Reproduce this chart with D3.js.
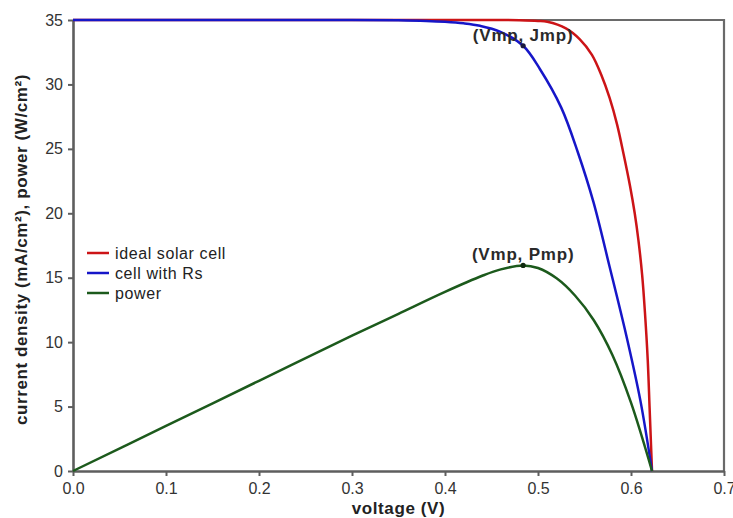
<!DOCTYPE html>
<html><head><meta charset="utf-8">
<script src="https://cdn.jsdelivr.net/npm/d3@7"></script>
<style>
body{margin:0;background:#fff;}
svg{display:block;font-family:"Liberation Sans",Arial,sans-serif;}
</style></head>
<body><svg id="c" width="733" height="518"></svg>
<script>
// ---- data ----
const idealV = [0, 0.1, 0.2, 0.3, 0.4, 0.45, 0.48, 0.50, 0.51, 0.53, 0.545, 0.558, 0.568, 0.577, 0.585, 0.592, 0.599, 0.604, 0.608, 0.612, 0.615, 0.618, 0.620, 0.6226];
const idealJ = [35, 35, 35, 35, 35, 35, 34.98, 34.93, 34.86, 34.35, 33.5, 32.3, 30.75, 28.95, 26.9, 24.6, 22.1, 20.0, 17.9, 15.2, 12.3, 8.6, 4.9, 0];

const rsV = [0, 0.1, 0.2, 0.3, 0.35, 0.38, 0.40, 0.42, 0.4376, 0.459, 0.484, 0.502, 0.525, 0.543, 0.5595, 0.577, 0.595, 0.610, 0.6226];
const rsJ = [35, 35, 35, 35, 34.98, 34.93, 34.86, 34.74, 34.55, 34.1, 33.0, 31.2, 28.2, 24.7, 20.9, 15.85, 10.5, 5.5, 0];

const powerV = [0, 0.1, 0.2, 0.3, 0.35, 0.40, 0.44, 0.46, 0.484, 0.50, 0.52, 0.54, 0.56, 0.58, 0.60, 0.6226];
const powerP = [0, 3.5, 7.0, 10.5, 12.2, 13.9, 15.15, 15.65, 15.95, 15.75, 14.95, 13.6, 11.7, 9.0, 5.3, 0];

const mppV = 0.484, mppJ = 33.0, mppP = 15.95;

const xTicks = [0, 0.1, 0.2, 0.3, 0.4, 0.5, 0.6, 0.7];
const yTicks = [0, 5, 10, 15, 20, 25, 30, 35];

const seriesNames = ["ideal solar cell", "cell with Rs", "power"];
const seriesColors = ["#cc1417", "#1616c8", "#1c5a1c"];

// ---- layout ----
const svg = d3.select("#c");
const L = 73, R = 724, T = 20, B = 471;
const x = d3.scaleLinear().domain([0, 0.7]).range([L, R]);
const y = d3.scaleLinear().domain([0, 35]).range([B, T]);

// frame (top/right)
svg.append("path")
  .attr("d", `M${L},${T}H${R}V${B}`)
  .attr("fill", "none").attr("stroke", "#6a6a6a").attr("stroke-width", 2.2);

const axisColor = "#5e5e5e";
const gx = svg.append("g").attr("transform", `translate(0,${B})`)
  .call(d3.axisBottom(x).tickValues(xTicks).tickFormat(d3.format(".1f")).tickSize(5).tickPadding(7).tickSizeOuter(0));
const gy = svg.append("g").attr("transform", `translate(${L},0)`)
  .call(d3.axisLeft(y).tickValues(yTicks).tickSize(5).tickPadding(5).tickSizeOuter(0));
[gx, gy].forEach(g => {
  g.select(".domain").attr("stroke", axisColor).attr("stroke-width", 2.6);
  g.selectAll(".tick line").attr("stroke", axisColor).attr("stroke-width", 2);
  g.selectAll(".tick text").attr("fill", "#333").attr("font-size", 16)
    .attr("font-family", "Liberation Sans, Arial, sans-serif");
});

// curves
const line = d3.line().x(d => x(d[0])).y(d => y(d[1])).curve(d3.curveCatmullRom.alpha(0.5));
const data = [
  d3.zip(idealV, idealJ),
  d3.zip(rsV, rsJ),
  d3.zip(powerV, powerP)
];
data.forEach((d, i) => {
  svg.append("path").datum(d).attr("d", line)
    .attr("fill", "none").attr("stroke", seriesColors[i])
    .attr("stroke-width", 2.5).attr("stroke-linejoin", "round");
});

// MPP markers
svg.append("circle").attr("cx", x(mppV)).attr("cy", y(mppJ)).attr("r", 2.6).attr("fill", "#1a1a40");
svg.append("circle").attr("cx", x(mppV)).attr("cy", y(mppP)).attr("r", 2.6).attr("fill", "#0f2a0f");

svg.append("text").attr("x", x(mppV)).attr("y", y(mppJ) - 5)
  .attr("text-anchor", "middle").attr("font-weight", "bold").attr("font-size", 17)
  .attr("letter-spacing", 0.8).attr("fill", "#2a2a2a").text("(Vmp, Jmp)");
svg.append("text").attr("x", x(mppV)).attr("y", y(mppP) - 5)
  .attr("text-anchor", "middle").attr("font-weight", "bold").attr("font-size", 17)
  .attr("letter-spacing", 0.8).attr("fill", "#2a2a2a").text("(Vmp, Pmp)");

// legend
const lg = svg.append("g").attr("transform", "translate(87,253)");
seriesNames.forEach((n, i) => {
  lg.append("line").attr("x1", 0).attr("x2", 22).attr("y1", i * 20).attr("y2", i * 20)
    .attr("stroke", seriesColors[i]).attr("stroke-width", 2.5);
  lg.append("text").attr("x", 28).attr("y", i * 20).attr("dy", "0.35em")
    .attr("font-size", 16).attr("letter-spacing", 0.6).attr("fill", "#222").text(n);
});

// axis titles
svg.append("text").attr("x", (L + R) / 2).attr("y", 514)
  .attr("text-anchor", "middle").attr("font-weight", "bold").attr("font-size", 17)
  .attr("letter-spacing", 0.6).attr("fill", "#222").text("voltage (V)");
svg.append("text").attr("transform", `translate(27,${(T + B) / 2 + 4}) rotate(-90)`)
  .attr("text-anchor", "middle").attr("font-weight", "bold").attr("font-size", 17)
  .attr("letter-spacing", 0.6).attr("fill", "#222").text("current density (mA/cm²), power (W/cm²)");
</script></body></html>
